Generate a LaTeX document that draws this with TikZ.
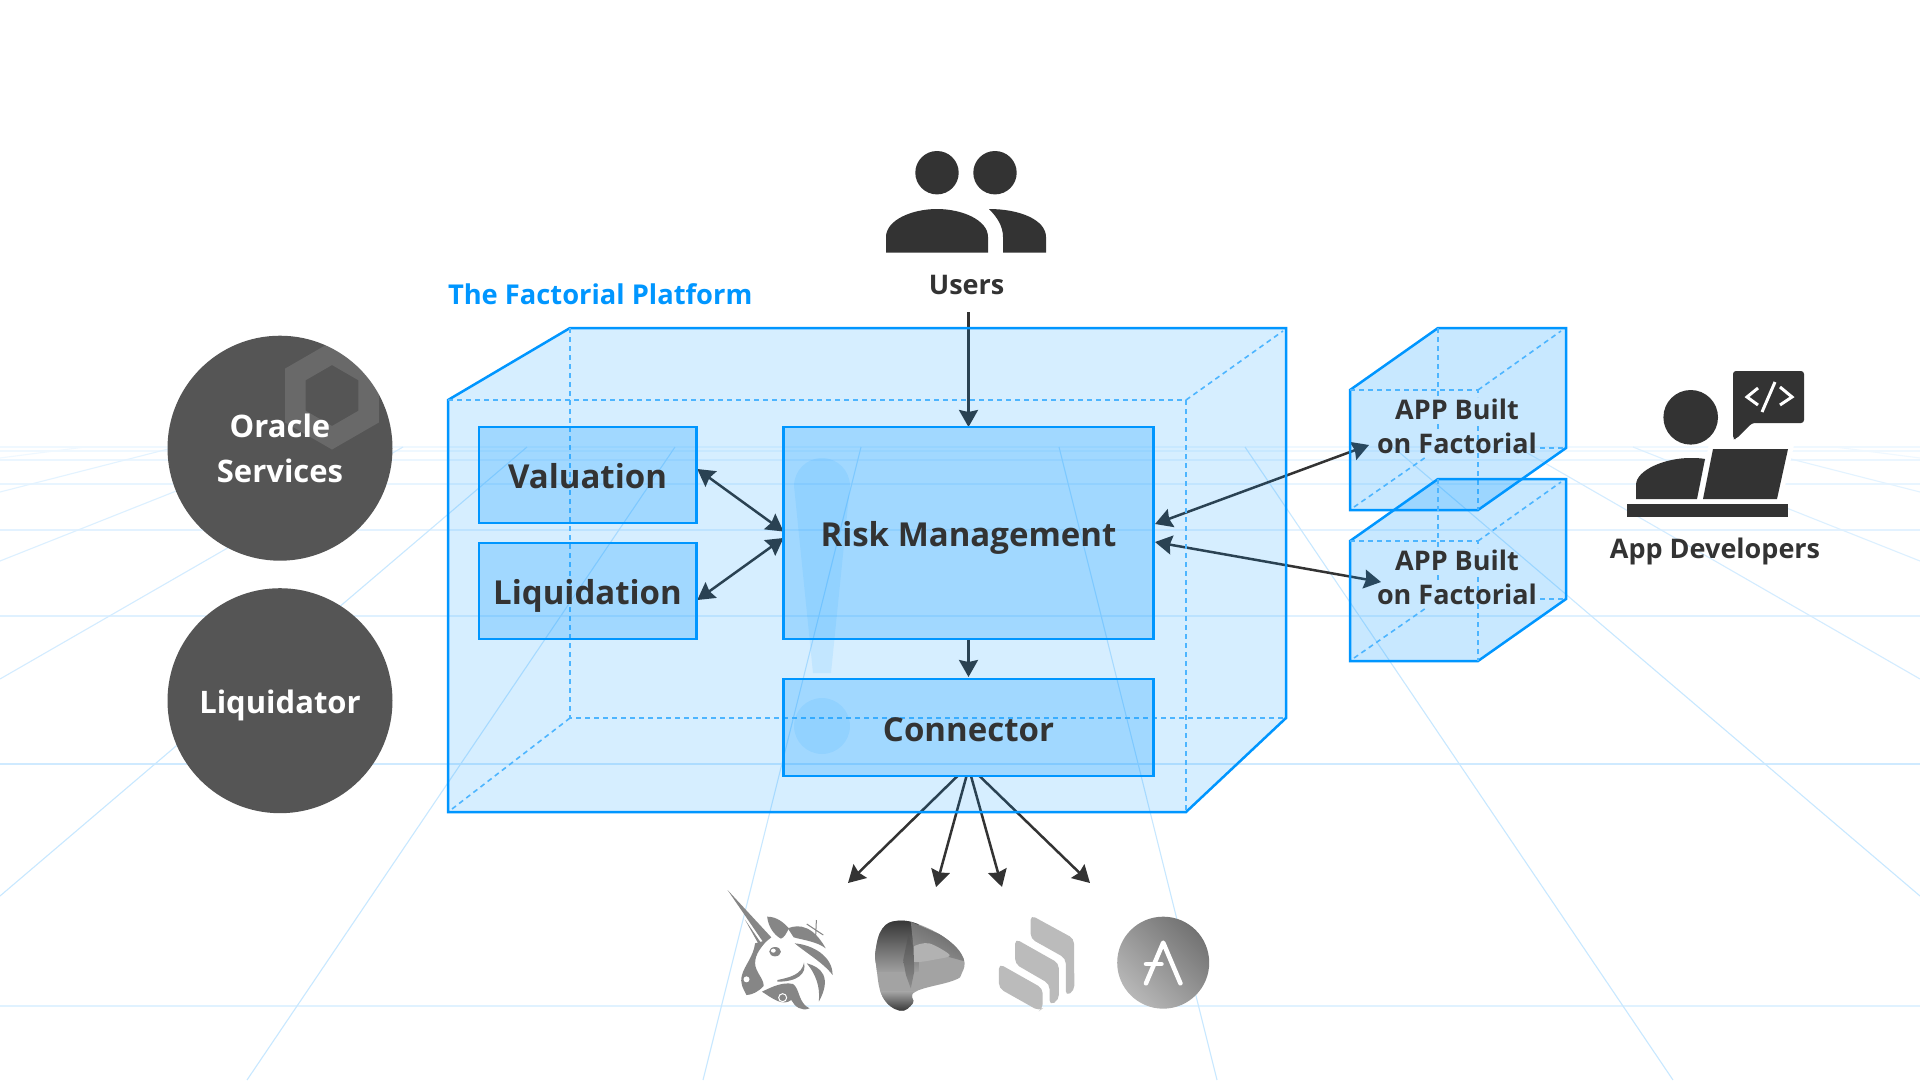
\documentclass[tikz,border=0pt]{standalone}
\usepackage{fontspec}
\setmainfont{Open Sans}
\usetikzlibrary{arrows.meta,calc}
\definecolor{fblue}{HTML}{0096FF}
\definecolor{fdash}{HTML}{4DB5FF}
\definecolor{ink}{HTML}{333333}
\definecolor{disc}{HTML}{555555}
\pgfdeclarelayer{gridl}
\pgfdeclarelayer{arrl}
\pgfsetlayers{gridl,arrl,main}
\tikzset{
  rline/.style={line width=1.1pt,color=#1},
  arw/.style={ink,line width=2.5pt,-{Stealth[length=17pt,width=19pt,inset=2pt]}},
  arwb/.style={ink,line width=2.5pt,{Stealth[length=17pt,width=19pt,inset=2pt]}-{Stealth[length=17pt,width=19pt,inset=2pt]}},
  ddash/.style={fdash,line width=1.6pt,dash pattern=on 5pt off 4pt},
  inbox/.style={draw=fblue,line width=2.5pt,fill=fblue,fill opacity=.245,draw opacity=1,text opacity=1,text=ink,
    font=\fontsize{33}{40}\selectfont\bfseries,text height=27pt,text depth=0pt,inner sep=0pt,outer sep=0pt},
  orb/.style={circle,fill=disc,minimum size=225pt,inner sep=0pt,text=white,align=center},
  lab/.style={text=ink,inner sep=0pt,outer sep=0pt,align=center},
  icon/.style={fill=ink,draw=none},
  wm/.style={fill=fblue,fill opacity=.09},
  logo/.style={x=0.34439pt,y=-0.33333pt}
}
\begin{document}
\begin{tikzpicture}[x=1pt,y=-1pt]
\useasboundingbox (0,0) rectangle (1920,1080);
\begin{pgfonlayer}{gridl}
\fill[white] (0,0) rectangle (1920,1080);
\foreach \yy/\cc/\ww in {447/EFF8FF/1.6,451/EFF8FF/1.6,460/EBF6FF/1.8,484/E8F5FF/1.8,530/E3F2FF/2,616/DFF1FF/2,764/CFEAFF/2.4,1006/E0F2FF/2}{
  \definecolor{tmpc}{HTML}{\cc}
  \draw[tmpc,line width=\ww pt] (0,\yy) -- (1920,\yy);
}
\foreach \xa/\xb/\yb/\cc in {85/0/458/EFF8FF,176/0/492/E3F3FF,287/0/561/DCF0FF,403/0/679/D3ECFF,527/0/896/C8E8FF,675/247/1080/C8E8FF,861/703/1080/C8E8FF}{
  \definecolor{tmpc}{HTML}{\cc}
  \draw[rline=tmpc] (\xa,447) -- (\xb,\yb);
  \pgfmathsetmacro{\xam}{1920-\xa}
  \pgfmathsetmacro{\xbm}{1920-\xb}
  \draw[rline=tmpc] (\xam,447) -- (\xbm,\yb);
}
\end{pgfonlayer}

% Discs
\node[orb,font=\fontsize{31}{45.5}\selectfont\bfseries,
  path picture={
    \fill[fill=white,fill opacity=.12,even odd rule]
      ([shift={(52pt,52.7pt)}]path picture bounding box.center) ++(30:54pt) -- ++(150:54pt) -- ++(210:54pt) -- ++(270:54pt) -- ++(330:54pt) -- ++(30:54pt) -- cycle
      ([shift={(52pt,52.7pt)}]path picture bounding box.center) ++(30:30.5pt) -- ++(150:30.5pt) -- ++(210:30.5pt) -- ++(270:30.5pt) -- ++(330:30.5pt) -- ++(30:30.5pt) -- cycle;
  }] (oracle) at (280,448.2) {Oracle\\Services};
\node[orb,font=\fontsize{31}{36}\selectfont\bfseries,text height=26pt,text depth=0pt] (liquidator) at (280,700.7) {Liquidator};

% Platform box
\path[fill=fblue,fill opacity=.16] (448,400) -- (570,328) -- (1286,328) -- (1286,718) -- (1186,812) -- (448,812) -- cycle;
\draw[fblue,line width=2.5pt,line join=miter] (448,400) -- (570,328) -- (1286,328) -- (1286,718) -- (1186,812) -- (448,812) -- cycle;
\draw[ddash] (448,400) -- (1186,400) -- (1186,812);
\draw[ddash] (1186,400) -- (1283,331);
\draw[ddash] (570,328) -- (570,718) -- (1286,718);
\draw[ddash] (570,718) -- (452,809);
% Exclamation watermark
\fill[wm] (794,486) arc[start angle=180,end angle=0,radius=28pt] -- (831,673) -- (813,673) -- cycle;
\fill[wm] (822,726) circle (28pt);

\node[text=fblue,inner sep=0pt,outer sep=0pt,anchor=base west,font=\fontsize{27.3}{32}\selectfont\bfseries] (platform) at (448,304) {The Factorial Platform};

\node[inbox,minimum width=217.5pt,minimum height=96pt] (valuation) at (587.5,475) {Valuation};
\node[inbox,minimum width=217.5pt,minimum height=96pt] (liquidation) at (587.5,591) {Liquidation};
\node[inbox,minimum width=370pt,minimum height=212pt] (risk) at (968.5,533) {Risk Management};
\node[inbox,minimum width=370pt,minimum height=97pt] (connector) at (968.5,727.5) {Connector};

% App cubes
\foreach \dy in {0,151}{
\begin{scope}[yshift=-\dy pt]
\path[fill=fblue,fill opacity=.215] (1350,390) -- (1438,328) -- (1566,328) -- (1566,448) -- (1478,510) -- (1350,510) -- cycle;
\draw[fblue,line width=2.5pt,line join=miter] (1350,390) -- (1438,328) -- (1566,328) -- (1566,448) -- (1478,510) -- (1350,510) -- cycle;
\draw[ddash] (1350,390) -- (1478,390) -- (1478,397);
\draw[ddash] (1478,426) -- (1478,510);
\draw[ddash] (1478,390) -- (1561,331);
\draw[ddash] (1438,328) -- (1438,397);
\draw[ddash] (1438,424) -- (1438,431);
\draw[ddash] (1540,448) -- (1566,448);
\draw[ddash] (1354,507) -- (1426,457);
\end{scope}
}
\node[lab,font=\fontsize{27}{34}\selectfont\bfseries] (appA) at (1457,426.7) {APP Built\\on Factorial};
\node[lab,font=\fontsize{27}{34}\selectfont\bfseries] (appB) at (1457,577.7) {APP Built\\on Factorial};
\coordinate (cubeA) at (1369,445);
\coordinate (cubeB) at (1381,582);

% Users icon
\fill[icon] (937,172.7) circle (21.7pt) (995,172.7) circle (21.7pt);
\fill[icon] (886,252.7) -- (886,237) .. controls (886,220) and (912,209) .. (937,209) .. controls (962,209) and (988,220) .. (988,237) -- (988,252.7) -- cycle;
\fill[icon] (989,209) .. controls (1020,209) and (1046,220) .. (1046,237) -- (1046,252.7) -- (1003,252.7) -- (1003,237) .. controls (1003,226) and (997,217) .. (989,209) -- cycle;
\node[lab,anchor=base,font=\fontsize{27}{32}\selectfont\bfseries] (users) at (966.6,294) {Users};

% App developers icon
\fill[icon] (1690.7,417.3) circle (27.3pt);
\fill[icon,rounded corners=3pt] (1733,371) -- (1804,371) -- (1804,423) -- (1752,423) -- (1736,439) -- (1733,439) -- cycle;
\draw[white,line width=3pt,line join=miter] (1758,388) -- (1747,397) -- (1758,405);
\draw[white,line width=3pt,line join=miter] (1780,387) -- (1792,397) -- (1780,405);
\draw[white,line width=3pt] (1775,382) -- (1762,412);
\fill[icon] (1636,499) -- (1636,485) .. controls (1636,470) and (1665,458) .. (1690,458) .. controls (1695,458) and (1700,458) .. (1705,459) -- (1697,499) -- cycle;
\draw[white,line width=10pt,line join=miter] (1713,449) -- (1788,449) -- (1777,499) -- (1703,499) -- cycle;
\fill[icon] (1713,449) -- (1788,449) -- (1777,499) -- (1703,499) -- cycle;
\fill[icon] (1627,504) rectangle (1788,517);
\node[lab,anchor=base,font=\fontsize{27}{32}\selectfont\bfseries] (developers) at (1715,558) {App Developers};

% Logo targets
\coordinate (uniT) at (848,883);
\coordinate (curveT) at (936,887);
\coordinate (compT) at (1002,887);
\coordinate (aaveT) at (1090,883);

% Connectors under the tinted boxes
\begin{pgfonlayer}{arrl}
\draw[arw] ($(users.south -| risk.north)+(0,18)$) -- (risk.north);
\draw[arw] (risk.south) -- ($(connector.north)+(0,-2)$);
\draw[arwb] ($(valuation.east)+(1,-6)$) -- ($(risk.west)+(0,-1.5)$);
\draw[arwb] ($(liquidation.east)+(1,9)$) -- ($(risk.west)+(0,5)$);
\draw[arwb] ($(risk.east)+(1.5,-9)$) -- (cubeA);
\draw[arwb] ($(risk.east)+(1.5,9)$) -- (cubeB);
\draw[arw] ($(connector.south)+(-11,0)$) -- (uniT);
\draw[arw] ($(connector.south)+(-2,0)$) -- (curveT);
\draw[arw] ($(connector.south)+(2.5,0)$) -- (compT);
\draw[arw] ($(connector.south)+(11,0)$) -- (aaveT);
\end{pgfonlayer}

% Logos, in zoom units
\begin{scope}[shift={(700,860)},logo]
% Uniswap
\definecolor{uni}{HTML}{868686}
\fill[uni] (80,90) -- (207,232) -- (186,250) -- cycle;
\fill[uni] (130,178) -- (178,250) -- (170,252) -- cycle;
\fill[uni] (195,170) .. controls (225,170) and (245,190) .. (258,205) .. controls (250,222) and (245,232) .. (235,236) .. controls (215,225) and (198,200) .. (195,170) -- cycle;
\fill[uni] (255,205) .. controls (290,190) and (330,200) .. (365,265) .. controls (340,245) and (300,240) .. (272,232) -- cycle;
\draw[uni,line width=1pt] (338,180) -- (335,245) (310,192) -- (358,225);
\fill[uni] (275,250) .. controls (330,255) and (385,290) .. (385,345) .. controls (360,310) and (310,280) .. (275,250) -- cycle;
\fill[uni] (310,310) .. controls (350,320) and (385,350) .. (345,425) .. controls (350,380) and (335,340) .. (310,310) -- cycle;
\fill[uni] (160,250) -- (195,240) .. controls (180,260) and (160,280) .. (160,310) .. controls (160,335) and (185,355) .. (185,378) .. controls (170,395) and (150,405) .. (135,405) .. controls (125,385) and (115,370) .. (122,345) .. controls (130,315) and (155,290) .. (160,250) -- cycle;
\fill[white] (135,358) circle (3pt);
\fill[uni] (180,395) .. controls (210,380) and (240,365) .. (270,372) .. controls (290,385) and (285,430) .. (318,445) .. controls (295,455) and (275,440) .. (265,420) .. controls (240,440) and (210,415) .. (180,395) -- cycle;
\draw[white,line width=1pt] (240,413) circle (4pt);
\fill[uni] (225,360) .. controls (260,352) and (295,345) .. (302,308) .. controls (310,340) and (285,365) .. (225,365) -- cycle;
\fill[uni] (218,275) ellipse[x radius=17,y radius=14];
\fill[white] (213,272) ellipse[x radius=7,y radius=6];
% Curve
\begin{scope}
\clip plot[smooth cycle,tension=.7] coordinates {(580,452) (530,410) (512,320) (510,270) (530,205) (575,182) (640,195) (720,240) (765,295) (760,340) (735,362) (625,395) (618,430)};
\fill[black!36] (480,150) rectangle (800,470);
\shade[top color=black!80,bottom color=black!38] (490,175) rectangle (635,335);
\shade[top color=black!36,bottom color=black!80] (490,395) rectangle (640,455);
\shade[top color=black!62,bottom color=black!42,shading angle=-25] (612,185) -- (790,265) -- (790,310) -- (620,262) -- cycle;
\fill[black!30] plot[smooth cycle] coordinates {(618,262) (665,250) (725,285) (690,297) (620,305)};
\shade[top color=black!68,bottom color=black!45] (605,225) -- (620,262) -- (622,335) -- (612,385) -- (598,345) -- (590,300) -- cycle;
\end{scope}
% Compound
\definecolor{comp}{HTML}{BBBBBB}
\fill[comp,rounded corners=5pt] (960,165) -- (1086,236) -- (1087,392) -- (1062,408) -- (1062,295) -- (960,236) -- cycle;
\fill[comp,rounded corners=5pt] (915,236) -- (1042,310) -- (1042,420) -- (1015,436) -- (1015,372) -- (915,312) -- cycle;
\fill[comp,rounded corners=5pt] (868,311) -- (995,385) -- (995,445) -- (985,453) -- (868,385) -- cycle;
% Aave
\shade[top color=black!55,bottom color=black!28,shading angle=315] (1345,308) circle (46pt);
\draw[white,line width=4.5pt,line cap=round,line join=round] (1295,370) -- (1345,248) -- (1395,370);
\draw[white,line width=4.5pt,line cap=round] (1295,312) -- (1340,312);
\end{scope}
\end{tikzpicture}
\end{document}
